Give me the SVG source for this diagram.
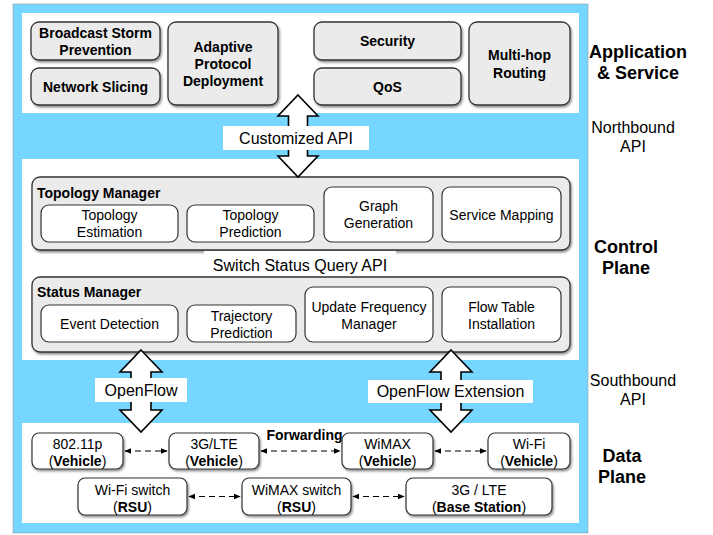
<svg xmlns="http://www.w3.org/2000/svg" width="713" height="535" viewBox="0 0 713 535">
<defs>
<filter id="sh" x="-10%" y="-10%" width="130%" height="140%">
<feDropShadow dx="1.2" dy="1.8" stdDeviation="1" flood-color="#000" flood-opacity="0.45"/>
</filter>
<marker id="ah" viewBox="0 0 10 10" refX="9" refY="5" markerWidth="7" markerHeight="7" orient="auto-start-reverse" markerUnits="userSpaceOnUse">
<path d="M0,1 L10,5 L0,9 Z" fill="#000"/>
</marker>
<style>
text{font-family:"Liberation Sans",Arial,sans-serif;fill:#000}
.app{fill:#ebebeb;stroke:#333;stroke-width:1.3}
.cont{fill:#ebebeb;stroke:#333;stroke-width:1.3}
.sub{fill:#fff;stroke:#333;stroke-width:1.2}
.dn{fill:#fff;stroke:#333;stroke-width:1.2}
.b13{font-size:14px;font-weight:bold;text-anchor:middle}
.r13{font-size:14px;text-anchor:middle}
.lab{font-size:16px;text-anchor:middle}
.side{font-size:18px;font-weight:bold;text-anchor:middle}
.api{font-size:16px;text-anchor:middle}
.blk{fill:#fff;stroke:#000;stroke-width:1.6;stroke-linejoin:miter}
.dash{stroke:#000;stroke-width:1.2;stroke-dasharray:6,4;fill:none;marker-start:url(#ah);marker-end:url(#ah)}
</style>
</defs>

<!-- background panels -->
<rect x="13" y="4" width="575" height="529" fill="#76D6FF" stroke="#9a9a9a" stroke-width="0.6"/>
<rect x="22" y="13" width="557" height="100" fill="#fff"/>
<rect x="22" y="159" width="557" height="201" fill="#fff"/>
<rect x="22" y="423" width="557" height="100" fill="#fff"/>

<!-- Application layer -->
<g id="broadcast-storm"><rect class="app" x="31" y="22" width="129" height="38" rx="8" filter="url(#sh)"/><text class="b13" x="95.5" y="38">Broadcast Storm</text><text class="b13" x="95.5" y="55">Prevention</text></g>
<g id="network-slicing"><rect class="app" x="31" y="68" width="129" height="37" rx="8" filter="url(#sh)"/><text class="b13" x="95.5" y="91.5">Network Slicing</text></g>
<g id="adaptive-protocol"><rect class="app" x="168" y="22" width="110" height="83" rx="8" filter="url(#sh)"/><text class="b13" x="223" y="51.5">Adaptive</text><text class="b13" x="223" y="68.5">Protocol</text><text class="b13" x="223" y="85.5">Deployment</text></g>
<g id="security"><rect class="app" x="314" y="22" width="147" height="38" rx="8" filter="url(#sh)"/><text class="b13" x="387.5" y="46">Security</text></g>
<g id="qos"><rect class="app" x="314" y="68" width="147" height="37" rx="8" filter="url(#sh)"/><text class="b13" x="387.5" y="91.5">QoS</text></g>
<g id="multi-hop"><rect class="app" x="469" y="22" width="101" height="83" rx="8" filter="url(#sh)"/><text class="b13" x="519.5" y="60">Multi-hop</text><text class="b13" x="519.5" y="77.5">Routing</text></g>

<!-- Control plane -->
<g id="topology-manager">
<rect class="cont" x="32" y="177" width="538" height="73" rx="8" filter="url(#sh)"/>
<text x="37" y="198" font-size="14" font-weight="bold">Topology Manager</text>
<g id="topology-estimation"><rect class="sub" x="41" y="205" width="137" height="37" rx="8"/><text class="r13" x="109.5" y="220">Topology</text><text class="r13" x="109.5" y="237">Estimation</text></g>
<g id="topology-prediction"><rect class="sub" x="187" y="205" width="127" height="37" rx="8"/><text class="r13" x="250.5" y="220">Topology</text><text class="r13" x="250.5" y="237">Prediction</text></g>
<g id="graph-generation"><rect class="sub" x="324" y="187" width="109" height="55" rx="8"/><text class="r13" x="378.5" y="211">Graph</text><text class="r13" x="378.5" y="228">Generation</text></g>
<g id="service-mapping"><rect class="sub" x="442" y="187" width="119" height="55" rx="8"/><text class="r13" x="501.5" y="219.5">Service Mapping</text></g>
</g>
<g id="switch-status-query-api"><rect x="204" y="251" width="192" height="24" fill="#fff"/><text class="lab" x="300" y="270.5">Switch Status Query API</text></g>
<g id="status-manager">
<rect class="cont" x="32" y="277" width="538" height="75" rx="8" filter="url(#sh)"/>
<text x="37" y="297" font-size="14" font-weight="bold">Status Manager</text>
<g id="event-detection"><rect class="sub" x="41" y="305" width="137" height="37" rx="8"/><text class="r13" x="109.5" y="329">Event Detection</text></g>
<g id="trajectory-prediction"><rect class="sub" x="187" y="305" width="109" height="37" rx="8"/><text class="r13" x="241.5" y="321">Trajectory</text><text class="r13" x="241.5" y="338">Prediction</text></g>
<g id="update-frequency"><rect class="sub" x="305" y="287" width="128" height="55" rx="8"/><text class="r13" x="369" y="312">Update Frequency</text><text class="r13" x="369" y="328.5">Manager</text></g>
<g id="flow-table"><rect class="sub" x="442" y="287" width="119" height="55" rx="8"/><text class="r13" x="501.5" y="312">Flow Table</text><text class="r13" x="501.5" y="328.5">Installation</text></g>
</g>

<!-- Data plane -->
<g id="n80211p"><rect class="dn" x="32" y="433" width="91" height="36" rx="7" filter="url(#sh)"/><text class="r13" x="77.5" y="448.5">802.11p</text><text class="r13" x="77.5" y="465.5">(<tspan font-weight="bold">Vehicle</tspan>)</text></g>
<g id="n3glte-vehicle"><rect class="dn" x="169" y="433" width="90" height="36" rx="7" filter="url(#sh)"/><text class="r13" x="214" y="448.5">3G/LTE</text><text class="r13" x="214" y="465.5">(<tspan font-weight="bold">Vehicle</tspan>)</text></g>
<g id="nwimax-vehicle"><rect class="dn" x="342" y="433" width="91" height="36" rx="7" filter="url(#sh)"/><text class="r13" x="387.5" y="448.5">WiMAX</text><text class="r13" x="387.5" y="465.5">(<tspan font-weight="bold">Vehicle</tspan>)</text></g>
<g id="nwifi-vehicle"><rect class="dn" x="488" y="433" width="82" height="36" rx="7" filter="url(#sh)"/><text class="r13" x="529" y="448.5">Wi-Fi</text><text class="r13" x="529" y="465.5">(<tspan font-weight="bold">Vehicle</tspan>)</text></g>
<g id="nwifi-switch"><rect class="dn" x="78" y="478" width="109" height="37" rx="7" filter="url(#sh)"/><text class="r13" x="132.5" y="494.5">Wi-Fi switch</text><text class="r13" x="132.5" y="511.5">(<tspan font-weight="bold">RSU</tspan>)</text></g>
<g id="nwimax-switch"><rect class="dn" x="242" y="478" width="109" height="37" rx="7" filter="url(#sh)"/><text class="r13" x="296.5" y="494.5">WiMAX switch</text><text class="r13" x="296.5" y="511.5">(<tspan font-weight="bold">RSU</tspan>)</text></g>
<g id="nbase-station"><rect class="dn" x="406" y="478" width="146" height="37" rx="7" filter="url(#sh)"/><text class="r13" x="479" y="494.5">3G / LTE</text><text class="r13" x="479" y="511.5">(<tspan font-weight="bold">Base Station</tspan>)</text></g>

<!-- Connectors -->
<g id="connectors">
<path class="blk" d="M298,95 L318,116 L307.5,116 L307.5,156 L318,156 L298,177 L278,156 L288.5,156 L288.5,116 L278,116 Z"/>
<rect x="223" y="126" width="146" height="24" fill="#fff"/>
<text class="lab" x="296" y="143.5">Customized API</text>
<path class="blk" d="M141,350 L162,372 L151,372 L151,410 L162,410 L141,432 L120,410 L131,410 L131,372 L120,372 Z"/>
<rect x="95" y="378" width="92" height="24" fill="#fff"/>
<text class="lab" x="141" y="395.5">OpenFlow</text>
<path class="blk" d="M451,350 L472,372 L461,372 L461,410 L472,410 L451,432 L430,410 L441,410 L441,372 L430,372 Z"/>
<rect x="368" y="380" width="165" height="23" fill="#fff"/>
<text class="lab" x="450.5" y="397">OpenFlow Extension</text>
<line class="dash" x1="125" y1="451" x2="167" y2="451"/>
<line class="dash" x1="261" y1="451" x2="340" y2="451"/>
<line class="dash" x1="435" y1="451" x2="486" y2="451"/>
<line class="dash" x1="189" y1="496.5" x2="240" y2="496.5"/>
<line class="dash" x1="353" y1="496.5" x2="404" y2="496.5"/>
<text class="b13" x="304.5" y="439.5">Forwarding</text>
</g>

<!-- Side labels -->
<g id="side-labels">
<text class="side" x="638" y="58">Application</text>
<text class="side" x="638" y="79">&amp; Service</text>
<text class="api" x="633" y="133">Northbound</text>
<text class="api" x="633" y="152">API</text>
<text class="side" x="626" y="253">Control</text>
<text class="side" x="626" y="274">Plane</text>
<text class="api" x="633" y="386">Southbound</text>
<text class="api" x="633" y="405">API</text>
<text class="side" x="622" y="462">Data</text>
<text class="side" x="622" y="483">Plane</text>
</g>
</svg>
